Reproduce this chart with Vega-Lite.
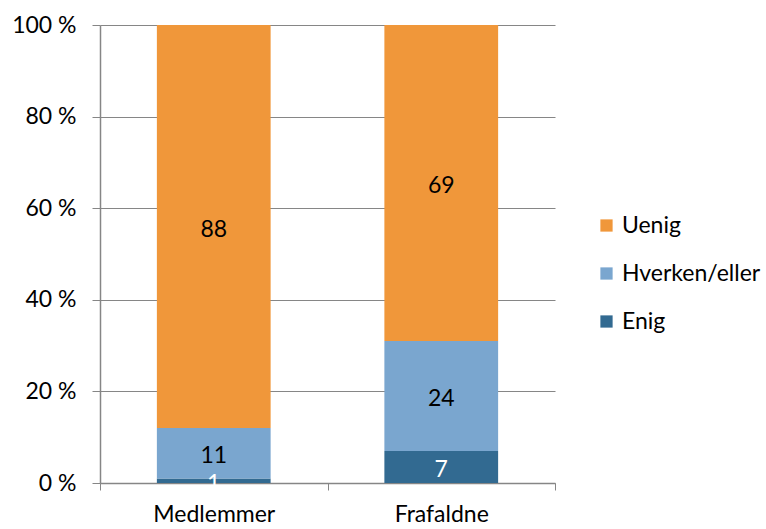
{
  "$schema": "https://vega.github.io/schema/vega-lite/v6.json",
  "width": 455,
  "height": 458,
  "autosize": "none",
  "padding": {"left": 100, "top": 25, "right": 211, "bottom": 46},
  "background": "white",
  "config": {
    "font": "Lato",
    "view": {"stroke": null},
    "axis": {"labelFont": "Lato", "labelFontSize": 23, "labelColor": "#000000", "domainColor": "#868686", "tickColor": "#868686", "gridColor": "#868686"}
  },
  "data": {
    "values": [
      {"group": "Medlemmer", "cat": "Enig", "v": 1},
      {"group": "Medlemmer", "cat": "Hverken/eller", "v": 11},
      {"group": "Medlemmer", "cat": "Uenig", "v": 88},
      {"group": "Frafaldne", "cat": "Enig", "v": 7},
      {"group": "Frafaldne", "cat": "Hverken/eller", "v": 24},
      {"group": "Frafaldne", "cat": "Uenig", "v": 69}
    ]
  },
  "transform": [
    {"stack": "v", "groupby": ["group"], "sort": [{"field": "cat", "order": "ascending"}], "as": ["v0", "v1"]},
    {"calculate": "(datum.v0 + datum.v1) / 2", "as": "vmid"}
  ],
  "encoding": {
    "x": {
      "field": "group", "type": "nominal", "sort": ["Medlemmer", "Frafaldne"],
      "scale": {"paddingInner": 0, "paddingOuter": 0},
      "axis": {"title": null, "labelAngle": 0, "tickBand": "extent", "tickSize": 7, "labelPadding": 13, "domainWidth": 1.5}
    }
  },
  "layer": [
    {
      "mark": {"type": "bar", "width": {"band": 0.5}},
      "encoding": {
        "y": {
          "field": "v0", "type": "quantitative",
          "scale": {"domain": [0, 100]},
          "axis": {"title": null, "values": [0, 20, 40, 60, 80, 100], "labelExpr": "datum.value + ' %'", "tickSize": 8, "labelPadding": 16, "grid": true, "gridWidth": 1.2, "domainWidth": 1.5}
        },
        "y2": {"field": "v1"},
        "color": {
          "field": "cat", "type": "nominal",
          "scale": {"domain": ["Uenig", "Hverken/eller", "Enig"], "range": ["#F0973A", "#7AA6CF", "#326A91"]},
          "legend": {
            "title": null, "orient": "none", "legendX": 495, "legendY": 189,
            "symbolType": "square", "symbolSize": 150, "symbolStrokeWidth": 0,
            "labelFontSize": 23, "labelFont": "Lato", "labelColor": "#000000",
            "rowPadding": 24, "labelOffset": 4
          }
        }
      }
    },
    {
      "mark": {"type": "text", "fontSize": 23, "baseline": "middle", "font": "Lato", "dy": 3},
      "encoding": {
        "y": {"field": "vmid", "type": "quantitative"},
        "text": {"field": "v", "type": "quantitative"},
        "color": {"condition": {"test": "datum.cat === 'Enig'", "value": "white"}, "value": "black"}
      }
    }
  ]
}
